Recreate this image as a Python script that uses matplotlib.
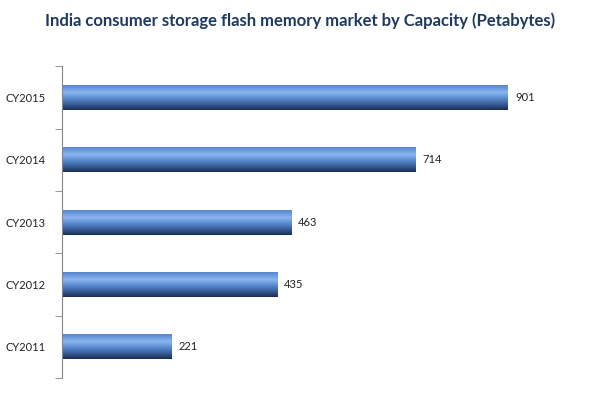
import matplotlib.pyplot as plt
import numpy as np
from matplotlib.colors import LinearSegmentedColormap

years = ['CY2011', 'CY2012', 'CY2013', 'CY2014', 'CY2015']
capacity = [221, 435, 463, 714, 901]

plt.rcParams['font.family'] = ['Lato', 'DejaVu Sans']

fig = plt.figure(figsize=(6, 4.05), dpi=100)
ax = fig.add_axes([0.1033, 0.0667, 0.825, 0.770])

# cylinder-like shading, top of bar -> bottom of bar
cmap = LinearSegmentedColormap.from_list('bar', [
    (0.0, '#5586cf'), (0.3, '#8ab5ef'), (0.55, '#5787cc'),
    (0.85, '#2d4e84'), (1.0, '#1b2f4f')])
grad = np.linspace(0, 1, 64).reshape(-1, 1)

h = 0.4
bars = ax.barh(range(len(years)), capacity, height=h, color='none')
for b, v in zip(bars, capacity):
    y0 = b.get_y()
    ax.imshow(grad, cmap=cmap, aspect='auto', extent=(0, v, y0, y0 + h),
              origin='upper', zorder=2)
    ax.text(v + 14, y0 + h / 2, str(v), va='center', ha='left',
            fontsize=8, color='#222222')

ax.set_xlim(0, 1000)
ax.set_ylim(-0.5, len(years) - 0.5)
ax.set_yticks(range(len(years)))
ax.set_yticklabels(years, fontsize=8, color='#222222')
ax.set_yticks(np.arange(-0.5, len(years)), minor=True)
ax.tick_params(axis='y', which='major', length=0, pad=12)
ax.tick_params(axis='y', which='minor', length=5, color='#868686')
ax.set_xticks([])
for s in ['top', 'right', 'bottom']:
    ax.spines[s].set_visible(False)
ax.spines['left'].set_color('#868686')

fig.text(0.5, 0.948, 'India consumer storage flash memory market by Capacity (Petabytes)',
         ha='center', va='center', fontsize=12, fontweight='bold', color='#1f3a5f')

fig.savefig('out.png', dpi=100)
